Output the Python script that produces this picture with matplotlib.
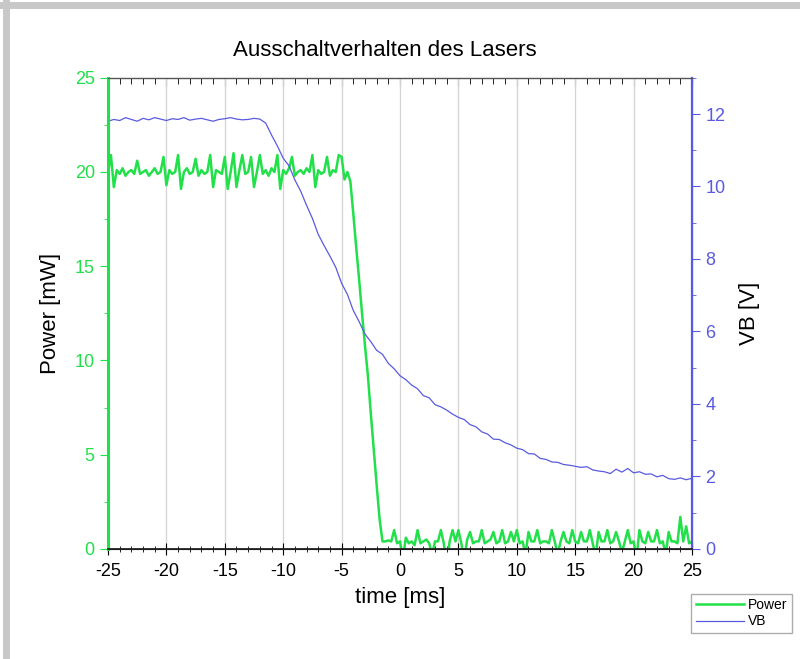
import matplotlib.pyplot as plt
import matplotlib.lines as mlines
import numpy as np
from matplotlib.ticker import MultipleLocator

plt.rcParams['font.family'] = ['Liberation Sans', 'DejaVu Sans']
plt.rcParams['axes.unicode_minus'] = False

# time axis [ms]
t_power = np.arange(-25, 25.001, 0.25)
t_vb = np.arange(-25, 25.001, 0.5)

power = [
    20.0, 20.9, 19.2, 20.1, 19.9, 20.2, 19.8, 20.0, 20.1, 19.9, 20.6, 19.9, 20.0, 20.1, 19.8, 20.0, 20.2, 19.9, 20.0, 20.8,
    19.3, 20.1, 19.9, 20.0, 20.9, 19.1, 20.0, 20.2, 19.9, 20.0, 20.7, 19.8, 20.1, 19.9, 20.0, 20.9, 19.2, 20.1, 20.0, 19.9,
    20.8, 19.1, 20.0, 21.0, 19.2, 20.1, 20.9, 19.9, 20.0, 20.8, 19.2, 20.0, 20.9, 19.9, 20.1, 19.8, 20.2, 20.0, 20.9, 19.1,
    20.1, 19.9, 20.2, 20.8, 19.8, 20.0, 20.1, 19.9, 20.2, 20.0, 20.9, 19.2, 20.1, 19.9, 20.0, 20.8, 19.8, 20.1, 20.0, 20.9,
    20.8, 19.6, 20.0, 19.5, 17.8, 16.0, 14.3, 12.5, 10.8, 9.2, 7.2, 5.3, 3.4, 1.6, 0.4, 0.4, 0.45, 0.4, 1.0, 0.3,
    0.4, -0.5, 0.6, 0.3, 0.4, 0.2, 1.0, 0.3, 0.4, 0.5, 0.3, -0.3, 0.4, 0.4, 1.0, 0.3, -0.9, 0.4, 1.0, 0.4,
    1.0, 0.3, -0.6, 0.5, 0.9, 0.3, 0.4, 0.4, 1.0, 0.3, 0.4, 0.5, 0.9, 0.3, 0.4, 1.0, 0.3, 0.4, 0.9, 0.4,
    1.0, 0.3, 0.4, -0.3, 0.9, 0.4, 0.4, 1.0, 0.3, 0.4, 0.4, 0.3, 1.0, 0.4, -0.3, 0.4, 0.9, 0.4, 0.3, 1.0,
    0.4, 0.3, 0.9, 0.4, 0.4, 1.0, 0.3, -0.4, 0.9, 0.4, 0.4, 1.0, 0.3, 0.4, 0.9, 0.4, -0.2, 0.4, 1.0, 0.3,
    0.4, -0.5, 1.0, 0.4, 0.3, 0.9, 0.4, 0.4, 1.0, 0.3, 0.4, -0.3, 0.9, 0.4, 0.4, 0.3, 1.7, 0.4, 1.2, 0.3,
    0.4,
]

vb = [
    11.80, 11.85, 11.82, 11.90, 11.85, 11.80, 11.88, 11.84, 11.90, 11.86, 11.82, 11.87, 11.85, 11.90, 11.83, 11.86,
    11.88, 11.84, 11.80, 11.85, 11.87, 11.90, 11.86, 11.84, 11.85, 11.88, 11.86,
    11.75, 11.42, 11.12, 10.78, 10.57, 10.18, 9.87, 9.48, 9.12, 8.68, 8.37, 8.08, 7.77, 7.33, 7.02, 6.58,
    6.27, 5.93, 5.72, 5.48, 5.37, 5.12, 4.97, 4.78, 4.67, 4.52, 4.42, 4.23, 4.17, 3.98, 3.92, 3.83, 3.72, 3.63,
    3.57, 3.43, 3.37, 3.23, 3.17, 3.03, 3.02, 2.93, 2.87, 2.78, 2.74, 2.63, 2.62, 2.50, 2.47, 2.40, 2.39, 2.33,
    2.31, 2.28, 2.25, 2.27, 2.18, 2.15, 2.13, 2.08, 2.20, 2.12, 2.22, 2.10, 2.13, 2.06, 2.07, 1.99, 2.03, 1.94,
    1.92, 1.96, 1.91, 1.95,
]

green = '#22e04a'
blue = '#5a5ae0'

fig = plt.figure(figsize=(8, 6.59), dpi=100)
ax = fig.add_axes([0.135, 0.167, 0.73, 0.715])
ax2 = ax.twinx()

ax.plot(t_power, power, color=green, lw=1.8, label='Power')
ax2.plot(t_vb, vb, color=blue, lw=0.9, label='VB')

ax.set_xlim(-25, 25)
ax.set_ylim(0, 25)
ax2.set_ylim(0, 13)

ax.xaxis.set_major_locator(MultipleLocator(5))
ax.xaxis.set_minor_locator(MultipleLocator(1))
ax.yaxis.set_major_locator(MultipleLocator(5))
ax.yaxis.set_minor_locator(MultipleLocator(2.5))
ax2.yaxis.set_major_locator(MultipleLocator(2))
ax2.yaxis.set_minor_locator(MultipleLocator(1))

ax.grid(axis='x', which='major', color='#d4d4d4', lw=0.9)

ax.tick_params(axis='x', which='both', direction='inout', labelsize=13, pad=6)
ax.tick_params(axis='x', which='major', length=8)
ax.tick_params(axis='x', which='minor', length=5)
ax.tick_params(axis='y', which='both', direction='out', colors=green, labelsize=13)
ax.tick_params(axis='y', which='major', length=6)
ax.tick_params(axis='y', which='minor', length=3)
ax2.tick_params(axis='y', which='both', direction='out', colors=blue, labelsize=13)
ax2.tick_params(axis='y', which='major', length=6)
ax2.tick_params(axis='y', which='minor', length=3)

# top axis: inward ticks, no labels
top = ax.secondary_xaxis('top')
top.xaxis.set_major_locator(MultipleLocator(5))
top.xaxis.set_minor_locator(MultipleLocator(1))
top.tick_params(which='both', direction='in', labeltop=False)
top.tick_params(which='major', length=6)
top.tick_params(which='minor', length=4)
top.spines['top'].set_color('#555555')

ax2.spines['left'].set_color(green)
ax2.spines['left'].set_linewidth(2.2)
ax2.spines['right'].set_color(blue)
ax2.spines['right'].set_linewidth(1.6)
ax2.spines['top'].set_color('#555555')
ax2.spines['bottom'].set_color('#222222')
ax2.spines['bottom'].set_linewidth(1.3)

ax.set_title('Ausschaltverhalten des Lasers', fontsize=16, x=0.474, pad=16)
ax.set_xlabel('time [ms]', fontsize=16, labelpad=5)
ax.set_ylabel('Power [mW]', fontsize=16, labelpad=10)
ax2.set_ylabel('VB [V]', fontsize=16, labelpad=10)

h1, l1 = ax.get_legend_handles_labels()
h2, l2 = ax2.get_legend_handles_labels()
fig.legend(h1 + h2, l1 + l2, loc='lower right', bbox_to_anchor=(0.99, 0.04),
           fontsize=10, fancybox=False, edgecolor='#999999', handlelength=3.5,
           borderpad=0.3, labelspacing=0.2, handletextpad=0.3, borderaxespad=0)

# grey frame at top and left edges
fig.add_artist(mlines.Line2D([0, 1], [0.992, 0.992], color='#c8c8c8', lw=5, transform=fig.transFigure))
fig.add_artist(mlines.Line2D([0.008, 0.008], [0, 1], color='#c8c8c8', lw=5, transform=fig.transFigure))

fig.savefig('out.png', dpi=100)
